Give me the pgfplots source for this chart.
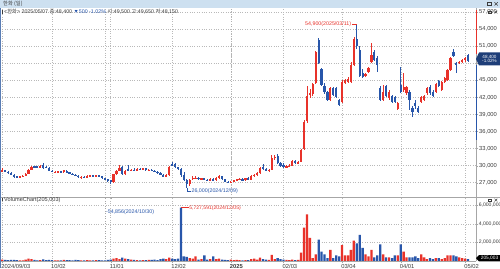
\documentclass[border=0pt]{standalone}
\usepackage{fontspec}
\setmainfont{Liberation Sans}
\newfontfamily\kr{Noto Sans CJK KR}
\usepackage{pgfplots}
\usepackage{pgfplotstable}
\pgfplotsset{compat=1.18}
\definecolor{upred}{RGB}{232,50,42}
\definecolor{dnblue}{RGB}{40,86,170}
\definecolor{gridc}{RGB}{185,185,185}
\definecolor{barbg}{RGB}{205,224,240}
\definecolor{txt}{RGB}{60,60,60}
\definecolor{navy}{RGB}{30,62,120}
\definecolor{lborder}{RGB}{90,125,180}

\pgfplotstableread{
i O H L C V
0 28900 29500 28800 29300 150000
1 29200 29300 28800 28900 120000
2 28900 29000 28600 28700 100000
3 28700 28800 28300 28400 110000
4 28400 28500 27900 28000 130000
5 28100 28200 27800 27900 90000
6 27900 28200 27800 28100 80000
7 28100 28300 28000 28200 70000
8 28200 28700 28100 28600 150000
9 28600 29400 28500 29300 250000
10 29300 29900 29200 29800 200000
11 29900 30000 29600 29700 120000
12 29900 30000 29600 29700 80000
13 29700 30100 29600 29900 100000
14 30100 30500 29400 29500 180000
15 29800 29900 29500 29600 90000
16 29600 29700 29000 29100 110000
17 29100 29200 28800 28900 90000
18 28800 29000 28700 28900 70000
19 28900 29100 28800 29000 60000
20 29000 29100 28700 28800 80000
21 28800 29300 28700 29200 120000
22 29100 29200 28700 28800 100000
23 28800 28900 28500 28600 90000
24 28600 28700 28300 28400 80000
25 28400 28500 28100 28200 110000
26 28200 28300 27900 28000 90000
27 27900 28100 27700 28000 70000
28 28000 28200 27800 27900 60000
29 27900 28300 27800 28200 100000
30 28200 28400 28100 28300 80000
31 28300 28400 28100 28200 70000
32 28200 28400 28100 28300 90000
33 28300 28400 28000 28100 100000
34 28100 28200 27700 27800 80000
35 27800 27900 27500 27600 54856
36 27600 27700 27200 27300 120000
37 27400 27500 26700 27100 150000
38 27100 28600 27000 28500 250000
39 28500 29200 28400 29100 300000
40 29100 30100 29000 29600 200000
41 29700 30000 28300 28500 350000
42 28500 29200 28400 29100 250000
43 29400 30100 29000 29200 200000
44 29200 29400 29000 29300 150000
45 29300 29500 29100 29200 120000
46 29200 29500 29100 29400 100000
47 29400 29500 29200 29300 80000
48 29300 29600 29200 29500 90000
49 29500 29600 29100 29200 100000
50 29200 29400 29000 29300 120000
51 29300 29400 29000 29100 110000
52 29100 29200 28800 28900 150000
53 28900 29000 28600 28700 100000
54 28700 28800 28300 28400 200000
55 28400 28500 28000 28100 250000
56 28100 28500 28000 28300 200000
57 28300 29900 28200 29800 350000
58 30200 30600 29900 30000 250000
59 30300 30500 29600 29700 200000
60 29700 29800 29200 29400 250000
61 29400 29600 28000 28300 5727591
62 28300 28900 27300 27500 500000
63 27500 27600 26000 26700 450000
64 26700 27700 26500 27500 300000
65 27600 28100 27500 27900 250000
66 27800 28100 27600 27900 500000
67 27900 28000 27500 27600 150000
68 27600 27900 27500 27800 200000
69 27800 27900 27400 27500 600000
70 27500 27700 27300 27400 150000
71 27400 27800 27300 27700 200000
72 27700 27900 27300 27400 500000
73 27400 28000 27300 27900 200000
74 27900 28300 27700 28200 250000
75 28100 28200 27500 27600 150000
76 27600 27700 27100 27200 120000
77 27200 27300 26900 27000 100000
78 27000 27300 26900 27200 150000
79 27200 27500 27100 27400 100000
80 27400 27700 27300 27600 120000
81 27600 27800 27400 27700 100000
82 27700 27900 27300 27400 80000
83 27400 27900 27300 27800 90000
84 27800 28000 27400 27500 100000
85 27500 28300 27400 28200 200000
86 28200 28500 28000 28400 250000
87 28400 28800 28200 28700 150000
88 28700 29800 28600 29600 350000
89 29800 30200 29300 29400 200000
90 29400 29500 29000 29100 150000
91 29100 29400 28900 29300 120000
92 29300 31800 29200 31400 650000
93 31400 31800 31000 31500 200000
94 31700 32100 30300 30500 300000
95 30500 30700 29700 29900 200000
96 30100 30400 29500 29700 150000
97 29700 30100 29500 29900 120000
98 29900 30200 29700 30000 100000
99 30000 31000 29900 30800 150000
100 30800 31000 30300 30400 100000
101 30400 30800 30200 30600 120000
102 30700 32900 30600 32700 900000
103 32900 38000 32700 37700 3600000
104 37900 44000 37500 42300 5000000
105 42500 43500 41800 42700 2500000
106 42600 44500 42200 44300 300000
107 44500 50200 44300 50000 700000
108 52000 52400 47800 48000 2300000
109 47000 47200 44000 44200 1000000
110 44000 44600 42600 43000 700000
111 43000 43100 41300 41500 300000
112 41500 43800 41300 43600 1200000
113 43600 43900 42200 42400 300000
114 43600 43800 41900 42000 600000
115 41500 41700 40500 40700 500000
116 41200 45000 41000 44700 1700000
117 44500 45300 44300 45000 600000
118 44700 45600 44500 45300 600000
119 44700 48200 44500 47700 1200000
120 47700 52600 47500 52300 2200000
121 52300 54900 50500 51000 1900000
122 50300 51000 45500 45800 2800000
123 46200 47000 45400 45600 1400000
124 45800 46300 45500 46100 700000
125 46500 47400 46300 47100 500000
126 48300 51500 48000 49500 1200000
127 50000 50300 48400 48600 400000
128 49000 49200 46500 47700 600000
129 43600 44000 41300 41500 1800000
130 41500 44200 41300 43000 700000
131 44000 44200 42000 42200 400000
132 41800 43300 41600 43000 400000
133 42200 42500 41000 41200 300000
134 42000 42300 41000 41200 600000
135 40000 41200 39800 41000 600000
136 44200 47400 42800 43000 1800000
137 43300 46200 43000 43900 1000000
138 42700 44000 42500 43900 400000
139 43000 43300 39800 41500 400000
140 40100 40500 38600 39500 400000
141 41000 41500 40000 40400 500000
142 40100 40400 39300 39500 300000
143 41200 42300 41000 42000 700000
144 41600 42400 41400 42200 400000
145 42700 43800 42500 43600 200000
146 43800 44200 42500 42700 300000
147 43000 43300 42000 42200 200000
148 43000 44500 42800 44300 300000
149 44900 45100 43800 44000 300000
150 43300 44900 43100 44700 200000
151 44700 45600 44500 45400 300000
152 45000 47000 44900 46800 600000
153 46800 49100 46600 48900 600000
154 50000 50500 49100 49300 600000
155 48000 48200 46300 47700 500000
156 48000 48400 47800 48300 400000
157 48300 48700 48100 48500 300000
158 48500 49100 48300 48900 250000
159 49500 49650 48150 48400 205003
}\ohlc

\pgfplotsset{
  candleaxis/.style={
    scale only axis, width=476pt, xmin=-0.75, xmax=161.7,
    axis x line*=bottom, axis y line*=right,
    axis line style={draw=gray!70},
    tick style={gray!70}, tick align=outside,
    major tick length=2pt, minor tick length=1pt,
    xmajorgrids, ymajorgrids,
    major grid style={gridc, dotted, line width=0.4pt},
    xtick={0,17,37,58,78,96,116,136,158},
    yticklabel style={font=\fontsize{5.8}{6}\selectfont, text=txt, inner sep=1pt},
    scaled y ticks=false,
    clip=true,
    /pgf/number format/.cd, fixed, 1000 sep={,}, assume math mode=true,
  },
  nomark/.style={only marks, mark=*, mark size=0pt,
    mark options={draw=none, fill=none, draw opacity=0, fill opacity=0}, forget plot},
  upwick/.style={nomark,
    restrict expr to domain={\thisrow{C}-\thisrow{O}}{0:10000000},
    error bars/.cd, y dir=both, y explicit, error mark=none,
    error bar style={draw=upred, line width=0.6pt}},
  dnwick/.style={nomark,
    restrict expr to domain={\thisrow{C}-\thisrow{O}}{-10000000:-1},
    error bars/.cd, y dir=both, y explicit, error mark=none,
    error bar style={draw=dnblue, line width=0.6pt}},
  upbody/.style={nomark,
    restrict expr to domain={\thisrow{C}-\thisrow{O}}{0:10000000},
    error bars/.cd, y dir=both, y explicit, error mark=none,
    error bar style={draw=upred, line width=2.2pt}},
  dnbody/.style={nomark,
    restrict expr to domain={\thisrow{C}-\thisrow{O}}{-10000000:-1},
    error bars/.cd, y dir=both, y explicit, error mark=none,
    error bar style={draw=dnblue, line width=2.2pt}},
}

\begin{document}
\begin{tikzpicture}[x=1pt,y=1pt]
\useasboundingbox (0,0) rectangle (500,268);
\fill[white] (0,0) rectangle (500,268);
% title bar
\fill[barbg] (0,260) rectangle (500,268);
\node[anchor=west, inner sep=0, font=\kr\fontsize{5.3}{5.5}\selectfont, text=txt] at (3,264.2) {한화 (일)};
\draw[txt, line width=0.4pt] (487.5,262.5) rectangle (490.8,265.8);
\draw[txt, line width=0.5pt] (494.5,262.5) -- (497.8,265.8) (494.5,265.8) -- (497.8,262.5);

% price panel
\begin{axis}[candleaxis, at={(0pt,71pt)}, anchor=south west, height=189pt,
  ymin=24486, ymax=57703,
  ytick={27000,30000,33000,36000,39000,42000,45000,51000,54000,57000},
  extra y ticks={48000}, extra y tick labels={}, extra y tick style={ymajorgrids},
  minor y tick num=1, xticklabels={}]
\draw[gray!60, dotted, line width=0.5pt] (78,24486) -- (78,57703);
\draw[gridc, dotted, line width=0.4pt] (35,24486) -- (35,57703);
\addplot[upwick] table[x=i, y expr={(\thisrow{H}+\thisrow{L})/2}, y error expr={(\thisrow{H}-\thisrow{L})/2}] {\ohlc};
\addplot[dnwick] table[x=i, y expr={(\thisrow{H}+\thisrow{L})/2}, y error expr={(\thisrow{H}-\thisrow{L})/2}] {\ohlc};
\addplot[upbody] table[x=i, y expr={(\thisrow{O}+\thisrow{C})/2}, y error expr={max(abs(\thisrow{O}-\thisrow{C})/2,45)}] {\ohlc};
\addplot[dnbody] table[x=i, y expr={(\thisrow{O}+\thisrow{C})/2}, y error expr={max(abs(\thisrow{O}-\thisrow{C})/2,45)}] {\ohlc};
% annotations
\draw[upred, line width=0.5pt] (119.3,54900) -- (121,54900) -- (121,54650);
\node[anchor=east, inner sep=0.5pt, text=upred, font=\fontsize{5.3}{5.5}\selectfont] at (119.3,54900) {54,900(2025/03/11)};
\draw[dnblue, line width=0.5pt] (63,26000) |- (64.4,25500);
\node[anchor=west, inner sep=0.5pt, text=dnblue, font=\fontsize{5.3}{5.5}\selectfont] at (64.4,25500) {26,000(2024/12/09)};
\end{axis}

% volume panel
\begin{axis}[candleaxis, at={(0pt,7pt)}, anchor=south west, height=63pt,
  ymin=0, ymax=6774000,
  ytick={2000000,4000000,6000000}, minor y tick num=1,
  yticklabel style={font=\fontsize{5.1}{6}\selectfont, inner sep=0.6pt},
  xticklabels={2024/09/03,10/02,11/01,12/02,\textbf{2025},02/03,03/04,04/01,05/02},
  xticklabel style={anchor=north west, inner sep=0pt, yshift=-0.8pt, xshift=-1pt,
    font=\fontsize{5.8}{6}\selectfont, text=txt}]
\draw[gray!70, dotted, line width=0.5pt] (35,0) -- (35,6774000);
\addplot[ybar, bar width=2.3pt, bar shift=0pt, fill=upred, draw=none, forget plot,
  restrict expr to domain={\thisrow{C}-\thisrow{O}}{0:10000000}] table[x=i, y=V] {\ohlc};
\addplot[ybar, bar width=2.3pt, bar shift=0pt, fill=dnblue, draw=none, forget plot,
  restrict expr to domain={\thisrow{C}-\thisrow{O}}{-10000000:-1}] table[x=i, y=V] {\ohlc};
\node[anchor=west, inner sep=0.5pt, text=dnblue, font=\fontsize{5.3}{5.5}\selectfont] at (35.2,5270000) {-54,856(2024/10/30)};
\draw[upred, line width=0.5pt] (61,5727591) -- (63.6,5727591);
\node[anchor=west, inner sep=0.5pt, text=upred, font=\fontsize{5.1}{5.5}\selectfont] at (63.6,5727591) {5,727,591(2024/12/05)};
\end{axis}

% separators and borders
\draw[gray!70, line width=0.5pt] (0,71) -- (500,71);
\draw[gray!70, line width=0.5pt] (0,7) -- (476,7);
\draw[lborder, line width=0.8pt] (0.4,0) -- (0.4,260);
% right axis colour bands
\draw[upred, line width=0.9pt] (476,258) -- (476,214);
\draw[dnblue, line width=0.9pt] (476,203) -- (476,128);

% info line
\node[anchor=west, inner sep=0, font=\fontsize{5.3}{5.5}\selectfont, text=txt] at (2,256.3)
  {\rule{1.1pt}{3.6pt}\,<{\kr 한화}> 2025/05/07 {\kr 종}:48,400 \textcolor{dnblue}{▼500 -1.02\%} {\kr 시}:49,500 {\kr 고}:49,650 {\kr 저}:48,150};
\node[anchor=west, inner sep=0, font=\fontsize{5.6}{6}\selectfont, text=txt] at (2,68)
  {\rule{1.1pt}{3.6pt}\,VolumeChart(205,003)};

% price box
\fill[navy] (476,209) -- (479,215.5) -- (500,215.5) -- (500,202.5) -- (479,202.5) -- cycle;
\node[text=white, font=\fontsize{4.6}{4.8}\selectfont, align=center, inner sep=0] at (489.5,209) {48,400\\-1.02\%};
% volume box
\fill[black] (476,9.8) -- (479,13) -- (500,13) -- (500,6.6) -- (479,6.6) -- cycle;
\node[text=white, font=\fontsize{4.8}{5}\selectfont, inner sep=0] at (489.5,9.8) {205,003};
% small window icons
\draw[txt, line width=0.35pt] (488,254.5) rectangle (490.8,257.3);
\draw[txt, line width=0.4pt] (494.5,254.5) -- (497.3,257.3) (494.5,257.3) -- (497.3,254.5);
\draw[txt, line width=0.35pt] (488,66.5) rectangle (490.8,69.3);
\draw[txt, line width=0.4pt] (494.5,66.5) -- (497.3,69.3) (494.5,69.3) -- (497.3,66.5);
\end{tikzpicture}
\end{document}
